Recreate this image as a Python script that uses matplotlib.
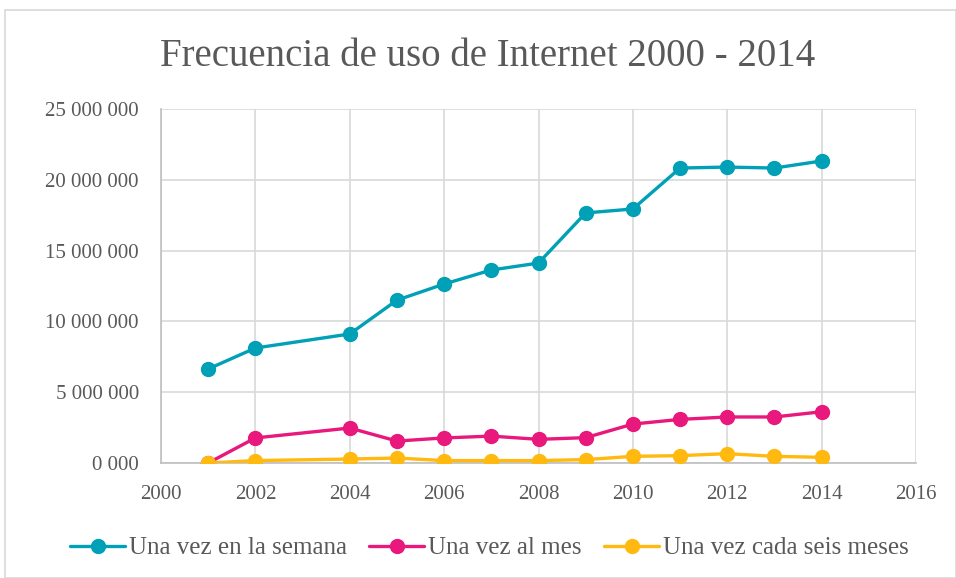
import matplotlib
matplotlib.use("Agg")
import matplotlib.pyplot as plt
from matplotlib.ticker import FuncFormatter, MultipleLocator
from matplotlib.patches import Rectangle

years = [2001, 2002, 2004, 2005, 2006, 2007, 2008, 2009, 2010, 2011, 2012, 2013, 2014]
semana = [6.64e6, 8.12e6, 9.11e6, 11.5e6, 12.64e6, 13.63e6, 14.12e6, 17.66e6,
          17.94e6, 20.83e6, 20.9e6, 20.83e6, 21.33e6]
mes = [0.0, 1.77e6, 2.47e6, 1.55e6, 1.77e6, 1.9e6, 1.67e6, 1.79e6,
       2.75e6, 3.08e6, 3.25e6, 3.25e6, 3.62e6]
seis_meses = [0.0, 0.17e6, 0.28e6, 0.35e6, 0.17e6, 0.17e6, 0.17e6, 0.24e6,
              0.47e6, 0.52e6, 0.66e6, 0.47e6, 0.40e6]

labels = ["Una vez en la semana", "Una vez al mes", "Una vez cada seis meses"]
colors = ["#00A0B6", "#E8187C", "#FFB90F"]

plt.rcParams['font.family'] = ['Liberation Serif', 'DejaVu Serif']
text_color = "#595959"

fig = plt.figure(figsize=(9.56, 5.78), dpi=100)
ax = fig.add_axes([161 / 956, 1 - 463 / 578, (916 - 161) / 956, (463 - 109) / 578])

for vals, lab, col in zip([semana, mes, seis_meses], labels, colors):
    ax.plot(years, vals, color=col, lw=2.4, marker='o', markersize=10, label=lab,
            solid_capstyle='round', zorder=3)

ax.set_xlim(2000, 2016)
ax.set_ylim(0, 25e6)
ax.xaxis.set_major_locator(MultipleLocator(2))
ax.yaxis.set_major_locator(MultipleLocator(5e6))


def fmt(v, pos):
    v = int(round(v))
    if v == 0:
        return "0 000"
    return f"{v:,}".replace(",", " ")


ax.yaxis.set_major_formatter(FuncFormatter(fmt))
ax.grid(True, color="#d9d9d9", lw=1.2)
ax.set_axisbelow(True)
for s in ["top", "right"]:
    ax.spines[s].set_visible(False)
for s in ["left", "bottom"]:
    ax.spines[s].set_color("#bfbfbf")
    ax.spines[s].set_linewidth(1.2)
ax.tick_params(length=0, labelsize=15, labelcolor=text_color)
ax.tick_params(axis='y', pad=16)
ax.tick_params(axis='x', pad=16)

fig.text(488 / 956, 1 - 57 / 578, "Frecuencia de uso de Internet 2000 - 2014",
         ha='center', va='center', fontsize=28, color=text_color)

fig.legend(loc='center', bbox_to_anchor=(0.512, 1 - 548 / 578), ncol=3, frameon=False,
           fontsize=18, labelcolor=text_color, handlelength=2.2, handletextpad=0.15,
           columnspacing=0.9, markerscale=1.0)

fig.patches.append(Rectangle((5 / 956, 0), 1 - 5 / 956, 1 - 10 / 578, transform=fig.transFigure,
                             fill=False, edgecolor="#d9d9d9", lw=1.2))

fig.savefig("out.png", dpi=100, facecolor="white")
